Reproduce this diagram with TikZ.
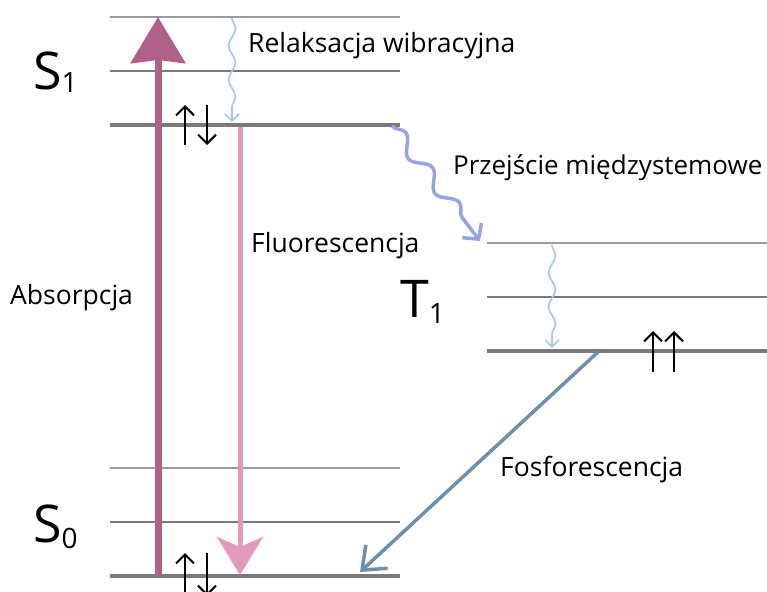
\documentclass[tikz,border=0pt]{standalone}
\usepackage{fontspec}
\setmainfont{Open Sans}
\usetikzlibrary{arrows.meta,decorations.pathmorphing}

\definecolor{levelgray}{HTML}{7A7A7A}
\definecolor{thingray}{HTML}{9A9A9A}
\definecolor{absorbcol}{HTML}{B0618A}
\definecolor{fluorcol}{HTML}{E29BBD}
\definecolor{relaxcol}{HTML}{A6C8E8}
\definecolor{isccol}{HTML}{98A4DE}
\definecolor{phoscol}{HTML}{6F8FAB}

\newcommand{\statesub}[2]{\raisebox{-#1}{\fontsize{28}{30}\selectfont #2}}

\begin{document}
\begin{tikzpicture}[x=1pt,y=-1pt,
  lvlthin/.style={draw=thingray,line width=1.4pt},
  lvlmid/.style={draw=levelgray,line width=2.2pt},
  lvlthick/.style={draw=levelgray,line width=4.2pt},
  absorb/.style={draw=absorbcol,line width=7pt,
    -{Stealth[length=46pt,width=54pt,inset=3pt]}},
  fluor/.style={draw=fluorcol,line width=5pt,
    -{Stealth[length=38pt,width=46pt,inset=10pt]}},
  relax/.style={draw=relaxcol,line width=1.7pt,decorate,
    decoration={snake,amplitude=3.5pt,segment length=34pt,post length=8pt},
    -{Straight Barb[length=7pt,width=14pt]}},
  isc/.style={draw=isccol,line width=3.5pt,decorate,
    decoration={snake,amplitude=7pt,segment length=44pt,post length=12pt},
    -{Straight Barb[length=11pt,width=24pt]}},
  phos/.style={draw=phoscol,line width=3.5pt,
    -{Straight Barb[length=20pt,width=32pt]}},
  spin/.style={draw=black,line width=2pt,
    -{Straight Barb[length=9pt,width=18pt]}},
  lbl/.style={anchor=base west,inner sep=0pt,font=\fontsize{26.5}{30}\selectfont},
  state/.style={anchor=base west,inner sep=0pt,font=\fontsize{52}{56}\selectfont}
]
\useasboundingbox (0,0) rectangle (767,591);

% S1 levels
\coordinate (s1v2L) at (110,17);  \coordinate (s1v2R) at (400,17);
\coordinate (s1v1L) at (110,71);  \coordinate (s1v1R) at (400,71);
\coordinate (s1v0L) at (110,125); \coordinate (s1v0R) at (400,125);
\draw[lvlthin]  (s1v2L) -- (s1v2R);
\draw[lvlmid]   (s1v1L) -- (s1v1R);
\draw[lvlthick] (s1v0L) -- (s1v0R);

% S0 levels
\coordinate (s0v2L) at (110,468); \coordinate (s0v2R) at (400,468);
\coordinate (s0v1L) at (110,522); \coordinate (s0v1R) at (400,522);
\coordinate (s0v0L) at (110,576); \coordinate (s0v0R) at (400,576);
\draw[lvlthin]  (s0v2L) -- (s0v2R);
\draw[lvlmid]   (s0v1L) -- (s0v1R);
\draw[lvlthick] (s0v0L) -- (s0v0R);

% T1 levels
\coordinate (t1v2L) at (487,243); \coordinate (t1v2R) at (767,243);
\coordinate (t1v1L) at (487,297); \coordinate (t1v1R) at (767,297);
\coordinate (t1v0L) at (487,351); \coordinate (t1v0R) at (767,351);
\draw[lvlthin]  (t1v2L) -- (t1v2R);
\draw[lvlmid]   (t1v1L) -- (t1v1R);
\draw[lvlthick] (t1v0L) -- (t1v0R);

% transitions
\coordinate (absA) at (158,576);  \coordinate (absB) at (158,17);
\draw[absorb] (absA) -- (absB);

\coordinate (flA) at (240,127);   \coordinate (flB) at (240,575);
\draw[fluor] (flA) -- (flB);

\coordinate (rxA) at (232,18);    \coordinate (rxB) at (232,122);
\draw[relax] (rxA) -- (rxB);

\coordinate (rtA) at (552,245);   \coordinate (rtB) at (552,348);
\draw[relax] (rtA) -- (rtB);

\coordinate (iscA) at (392,126);  \coordinate (iscB) at (480,241);
\draw[isc] (iscA) -- (iscB);

\coordinate (phA) at (598,352);   \coordinate (phB) at (360,572);
\draw[phos] (phA) -- (phB);

% electron spins
\coordinate (sp1a) at (185,145); \coordinate (sp1b) at (185,105);
\coordinate (sp1c) at (207,105); \coordinate (sp1d) at (207,145);
\draw[spin] (sp1a) -- (sp1b);
\draw[spin] (sp1c) -- (sp1d);

\coordinate (sp0a) at (185,596); \coordinate (sp0b) at (185,553);
\coordinate (sp0c) at (207,553); \coordinate (sp0d) at (207,596);
\draw[spin] (sp0a) -- (sp0b);
\draw[spin] (sp0c) -- (sp0d);

\coordinate (spTa) at (653,372); \coordinate (spTb) at (653,331);
\coordinate (spTc) at (674,372); \coordinate (spTd) at (674,331);
\draw[spin] (spTa) -- (spTb);
\draw[spin] (spTc) -- (spTd);

% labels
\node[state] (labS1) at (33,90)  {S\statesub{3pt}{1}};
\node[state] (labT1) at (400,317) {T\statesub{6pt}{1}};
\node[state] (labS0) at (33,542) {S\statesub{6pt}{0}};

\node[lbl] (labRelax) at (248,53)  {Relaksacja wibracyjna};
\node[lbl,font=\fontsize{26}{30}\selectfont] (labISC) at (453,174) {Przejście międzystemowe};
\node[lbl] (labFluor) at (251,252) {Fluorescencja};
\node[lbl] (labAbs)   at (10,304)  {Absorpcja};
\node[lbl] (labPhos)  at (500,476) {Fosforescencja};
\end{tikzpicture}
\end{document}
